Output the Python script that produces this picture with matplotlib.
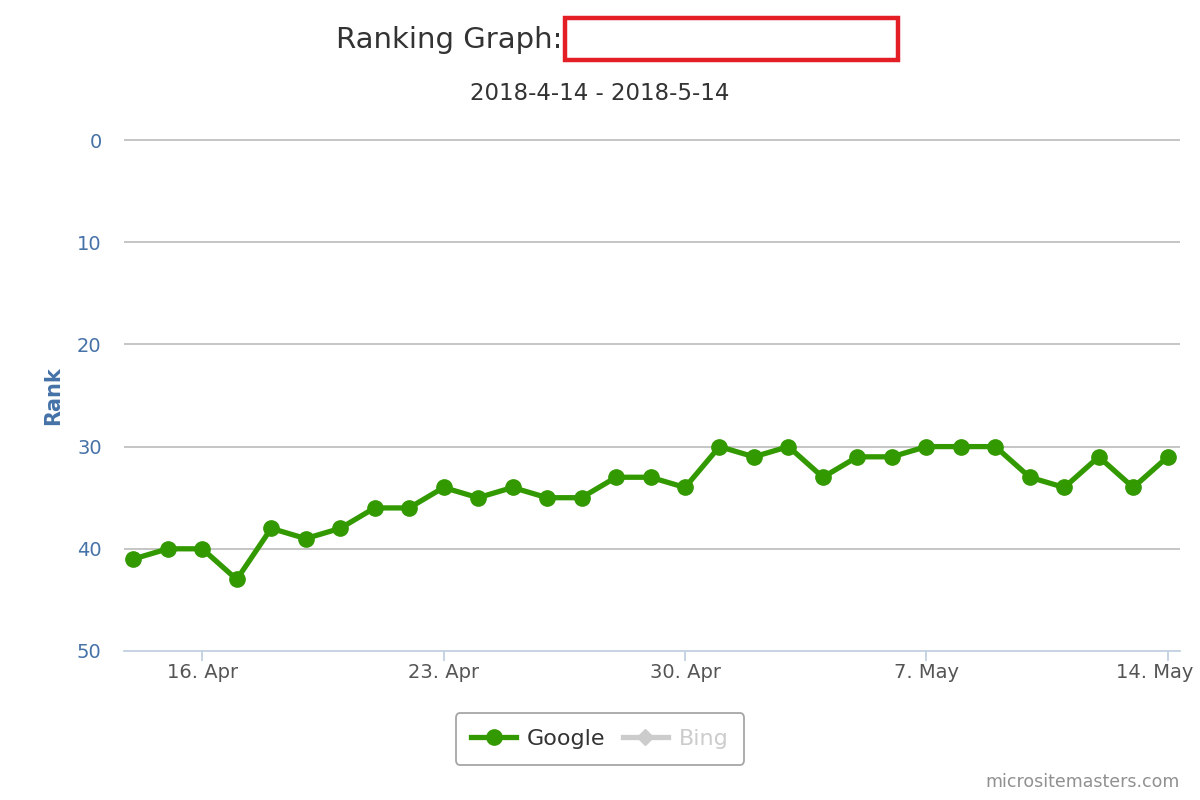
import numpy as np
import pandas as pd
import matplotlib
matplotlib.use("Agg")
import matplotlib.pyplot as plt
import matplotlib.dates as mdates
import matplotlib.transforms as mtrans
from matplotlib.lines import Line2D
from matplotlib.patches import Rectangle

dates = pd.date_range("2018-04-14", "2018-05-14", freq="D")
google_rank = [41, 40, 40, 43, 38, 39, 38, 36, 36, 34,
               35, 34, 35, 35, 33, 33, 34, 30, 31, 30,
               33, 31, 31, 30, 30, 30, 33, 34, 31, 34, 31]
tick_dates = pd.to_datetime(["2018-04-16", "2018-04-23", "2018-04-30",
                             "2018-05-07", "2018-05-14"])
y_ticks = [0, 10, 20, 30, 40, 50]

green = "#339900"
blue = "#4572a7"


def main():
    fig = plt.figure(figsize=(12, 8), dpi=100)
    ax = fig.add_axes([0.1033, 0.18625, 0.88, 0.63875])

    ax.plot(dates, google_rank, color=green, lw=3.8, marker="o",
            markersize=11, zorder=3)

    ax.set_ylim(50, 0)
    ax.set_yticks(y_ticks)
    ax.set_xlim(dates[0] - pd.Timedelta(hours=6.5),
                dates[-1] + pd.Timedelta(hours=8.5))
    ax.set_xticks(tick_dates)
    ax.xaxis.set_major_formatter(
        plt.FuncFormatter(lambda v, p: "%d. %s" % (mdates.num2date(v).day,
                                                   mdates.num2date(v).strftime("%b"))))

    # horizontal grid lines, unclipped so the top one is drawn full width
    ax.hlines(y_ticks[:-1], 0, 1, transform=ax.get_yaxis_transform(),
              color="#c0c0c0", lw=1.3, clip_on=False, zorder=1)
    for s in ["top", "right", "left"]:
        ax.spines[s].set_visible(False)
    ax.spines["bottom"].set_color("#c0d0e0")
    ax.spines["bottom"].set_linewidth(1.3)
    ax.tick_params(axis="y", length=0, pad=16, labelsize=14, labelcolor=blue)
    ax.tick_params(axis="x", length=7, color="#c0d0e0", width=1.3,
                   labelsize=14, labelcolor="#555555", pad=2)
    ax.set_ylabel("Rank", color=blue, fontsize=15, fontweight="bold", labelpad=10)

    # last date label is pushed left so it stays inside the figure
    last = ax.xaxis.get_major_ticks()[-1].label1
    last.set_transform(last.get_transform() +
                       mtrans.ScaledTranslation(-0.13, 0, fig.dpi_scale_trans))

    fig.text(562 / 1200, 0.95, "Ranking Graph:", ha="right", va="center",
             fontsize=21, color="#333333")
    fig.patches.append(Rectangle((565 / 1200, 1 - 60 / 800), 333 / 1200, 42 / 800,
                                 transform=fig.transFigure, fill=False,
                                 edgecolor="#e31e24", lw=3.2))
    fig.text(0.5, 1 - 94 / 800, "2018-4-14 - 2018-5-14", ha="center", va="center",
             fontsize=16.5, color="#333333")

    handles = [Line2D([], [], color=green, lw=3.8, marker="o", markersize=11),
               Line2D([], [], color="#cccccc", lw=3.8, marker="D", markersize=8)]
    leg = fig.legend(handles, ["Google", "Bing"], loc="center",
                     bbox_to_anchor=(0.5, 1 - 739 / 800), ncol=2, fontsize=16,
                     frameon=True, fancybox=True, edgecolor="#909090",
                     handlelength=2.0, columnspacing=0.8, handletextpad=0.5,
                     borderpad=0.7)
    leg.get_frame().set_linewidth(1.3)
    leg.get_texts()[0].set_color("#333333")
    leg.get_texts()[1].set_color("#cccccc")

    fig.text(0.983, 1 - 782 / 800, "micrositemasters.com", ha="right",
             va="center", fontsize=12.5, color="#909090")

    fig.savefig("out.png", dpi=100)


if __name__ == "__main__":
    main()
